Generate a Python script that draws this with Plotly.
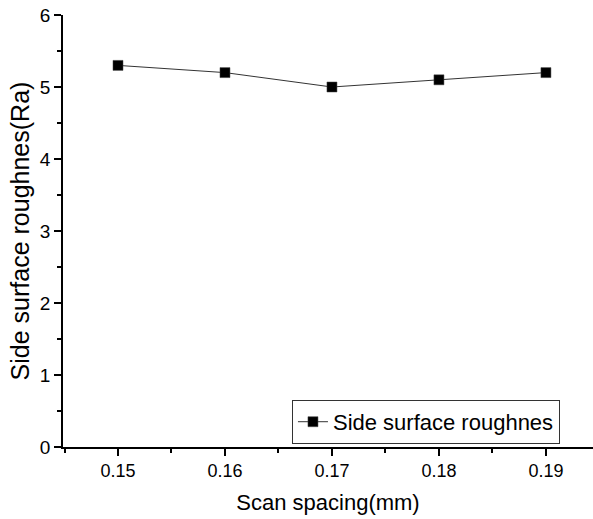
import plotly.graph_objects as go

scan_spacing = [0.15, 0.16, 0.17, 0.18, 0.19]
roughness = [5.3, 5.2, 5.0, 5.1, 5.2]
x_ticks = [0.15, 0.16, 0.17, 0.18, 0.19]
x_tick_labels = ["0.15", "0.16", "0.17", "0.18", "0.19"]
series_name = "Side surface roughnes"

FONT = "Liberation Sans, Arial, sans-serif"

fig = go.Figure()
fig.add_trace(go.Scatter(
    x=scan_spacing, y=roughness, mode="lines+markers", name=series_name,
    line=dict(color="#333333", width=1),
    marker=dict(symbol="square", size=10, color="black", line=dict(color="#444444", width=0.5)),
    showlegend=True,
))

fig.update_layout(
    width=593, height=519,
    margin=dict(l=63, r=0, t=15, b=72),
    plot_bgcolor="white", paper_bgcolor="white",
    font=dict(family=FONT, color="black", size=18),
    xaxis=dict(
        range=[0.14486, 0.1944], tickvals=x_ticks, ticktext=x_tick_labels,
        showline=True, linecolor="black", linewidth=1.5, mirror=False,
        ticks="outside", ticklen=7, tickwidth=1.5, tickcolor="black",
        minor=dict(ticks="outside", ticklen=4, tickwidth=1.5, dtick=0.005, tick0=0.145, tickcolor="black"),
        showgrid=False, zeroline=False,
        tickfont=dict(size=18, family=FONT, color="black"),
        title=dict(text="Scan spacing(mm)", font=dict(size=22, family=FONT), standoff=14),
    ),
    yaxis=dict(
        range=[0, 6], dtick=1, tick0=0,
        showline=True, linecolor="black", linewidth=1.5, mirror=False,
        ticks="outside", ticklen=7, tickwidth=1.5, tickcolor="black",
        minor=dict(ticks="outside", ticklen=4, tickwidth=1.5, dtick=0.5, tickcolor="black"),
        showgrid=False, zeroline=False,
        tickfont=dict(size=19, family=FONT, color="black"),
        title=dict(text="Side surface roughnes(Ra)", font=dict(size=25, family=FONT), standoff=3),
    ),
    legend=dict(
        x=0.432, y=0.109, xanchor="left", yanchor="top",
        bordercolor="#333333", borderwidth=1, bgcolor="white",
        font=dict(size=22, family=FONT),
        tracegroupgap=0,
    ),
)

fig.write_html("out.html")
